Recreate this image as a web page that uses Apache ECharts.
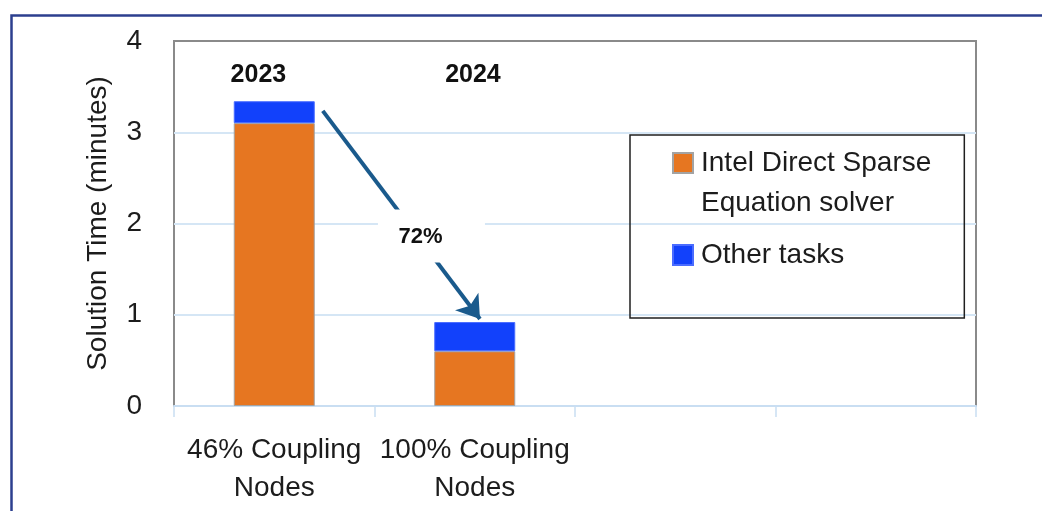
<!DOCTYPE html>
<html>
<head>
<meta charset="utf-8">
<style>
  html, body { margin: 0; padding: 0; background: #ffffff; }
  #chart { width: 1042px; height: 511px; }
</style>
<script src="https://cdn.jsdelivr.net/npm/echarts@6/dist/echarts.min.js"></script>
</head>
<body>
<div id="chart"></div>
<script>
// Categories along the x axis (two empty slots on the right)
const categories = ['46% Coupling\nNodes', '100% Coupling\nNodes', '', ''];
// Solution time in minutes, split into solver time and the rest
const solverTime = [3.1, 0.6, null, null];
const otherTime = [0.24, 0.32, null, null];
// Year tags shown above the bars
const years = ['2023', '2024'];
// Series names and their legend text
const seriesNames = ['Intel Direct Sparse Equation solver', 'Other tasks'];
const legendText = ['Intel Direct Sparse\nEquation solver', 'Other tasks'];
// Y axis ticks
const yTicks = { min: 0, max: 4, interval: 1 };

const FONT = "'Liberation Sans', Arial, sans-serif";
const TEXT = '#1c1c1c';
const GRID_BLUE = '#d5e6f5';
const FRAME_GRAY = '#8a8a8a';

const total0 = solverTime[0] + otherTime[0];
const total1 = solverTime[1] + otherTime[1];
const reduction = Math.round((1 - total1 / total0) * 100) + '%';

const chart = echarts.init(document.getElementById('chart'), null, { renderer: 'canvas' });

chart.setOption({
  backgroundColor: '#ffffff',
  animation: false,
  textStyle: { fontFamily: FONT },
  grid: {
    left: 174, right: 66, top: 41, bottom: 105,
    show: true, borderColor: FRAME_GRAY, borderWidth: 2, backgroundColor: 'transparent'
  },
  legend: {
    left: 630, top: 135,
    orient: 'vertical',
    padding: [7, 33, 22, 42],
    borderColor: '#1f1f1f', borderWidth: 1.5,
    itemWidth: 20, itemHeight: 80, itemGap: -10,
    selectedMode: false,
    textStyle: { fontFamily: FONT, fontSize: 28, lineHeight: 40, color: TEXT, padding: [0, 0, 0, 3] },
    formatter: name => legendText[seriesNames.indexOf(name)],
    data: [
      { name: seriesNames[0], icon: 'path://M0,0 M0,80 M0,10h20v20h-20z' },
      { name: seriesNames[1], icon: 'path://M0,0 M0,80 M0,30h20v20h-20z' }
    ]
  },
  xAxis: [
    {
      type: 'category',
      data: categories,
      boundaryGap: true,
      axisLine: { show: true, lineStyle: { color: '#c9def2', width: 2 } },
      axisTick: { show: true, interval: 0, length: 11, lineStyle: { color: '#c9def2', width: 1.5 } },
      axisLabel: { interval: 0, fontSize: 28, lineHeight: 38, color: TEXT, margin: 25, fontFamily: FONT },
      splitLine: { show: false }
    },
    {
      // helper axis for annotations: category slot i sits at value i
      type: 'value', min: -0.5, max: 3.5, show: false
    }
  ],
  yAxis: {
    type: 'value',
    min: yTicks.min, max: yTicks.max, interval: yTicks.interval,
    name: 'Solution Time (minutes)',
    nameLocation: 'middle',
    nameGap: 62,
    nameTextStyle: { fontSize: 28, color: TEXT, fontFamily: FONT },
    axisLine: { show: false },
    axisTick: { show: false },
    axisLabel: { fontSize: 28, color: TEXT, margin: 32, fontFamily: FONT },
    splitLine: {
      show: true,
      lineStyle: { color: [GRID_BLUE, GRID_BLUE, GRID_BLUE, GRID_BLUE, FRAME_GRAY], width: 2 }
    }
  },
  series: [
    {
      name: seriesNames[0],
      type: 'bar',
      stack: 'time',
      barWidth: 81,
      data: solverTime,
      itemStyle: { color: '#e67621', borderColor: '#a3a3a3', borderWidth: 1 }
    },
    {
      name: seriesNames[1],
      type: 'bar',
      stack: 'time',
      barWidth: 81,
      data: otherTime,
      itemStyle: { color: '#1241fb', borderColor: '#4a6cff', borderWidth: 1 }
    },
    {
      // reduction arrow between the two bars
      type: 'scatter',
      xAxisIndex: 1,
      yAxisIndex: 0,
      data: [],
      silent: true,
      z: 3,
      markLine: {
        silent: true,
        symbol: ['none', 'arrow'],
        symbolSize: 22,
        label: { show: false },
        lineStyle: { color: '#1a5a8c', width: 4, type: 'solid' },
        emphasis: { disabled: true },
        data: [[{ coord: [0.242, 3.234] }, { coord: [1.026, 0.953] }]]
      }
    },
    {
      // percentage tag and year tags
      type: 'scatter',
      xAxisIndex: 1,
      yAxisIndex: 0,
      data: [],
      silent: true,
      z: 4,
      markPoint: {
        silent: true,
        emphasis: { disabled: true },
        data: [
          {
            coord: [0.784, 1.863],
            symbol: 'rect', symbolSize: [107, 53],
            itemStyle: { color: '#ffffff' },
            label: {
              show: true, position: 'inside', formatter: reduction, offset: [-11, 1],
              fontSize: 22, fontWeight: 'bold', color: '#111', fontFamily: FONT
            }
          },
          {
            coord: [-0.079, 3.63],
            symbol: 'rect', symbolSize: [1, 1],
            itemStyle: { color: 'rgba(0,0,0,0)' },
            label: {
              show: true, position: 'inside', formatter: years[0],
              fontSize: 25, fontWeight: 'bold', color: '#111', fontFamily: FONT
            }
          },
          {
            coord: [0.991, 3.63],
            symbol: 'rect', symbolSize: [1, 1],
            itemStyle: { color: 'rgba(0,0,0,0)' },
            label: {
              show: true, position: 'inside', formatter: years[1],
              fontSize: 25, fontWeight: 'bold', color: '#111', fontFamily: FONT
            }
          }
        ]
      }
    }
  ],
  graphic: [
    {
      // outer frame
      type: 'rect',
      left: 9, top: 13,
      shape: { x: 0, y: 0, width: 1100, height: 600 },
      style: { fill: 'none', stroke: '#2c3f8f', lineWidth: 2.5 },
      silent: true
    }
  ]
});
</script>
</body>
</html>
